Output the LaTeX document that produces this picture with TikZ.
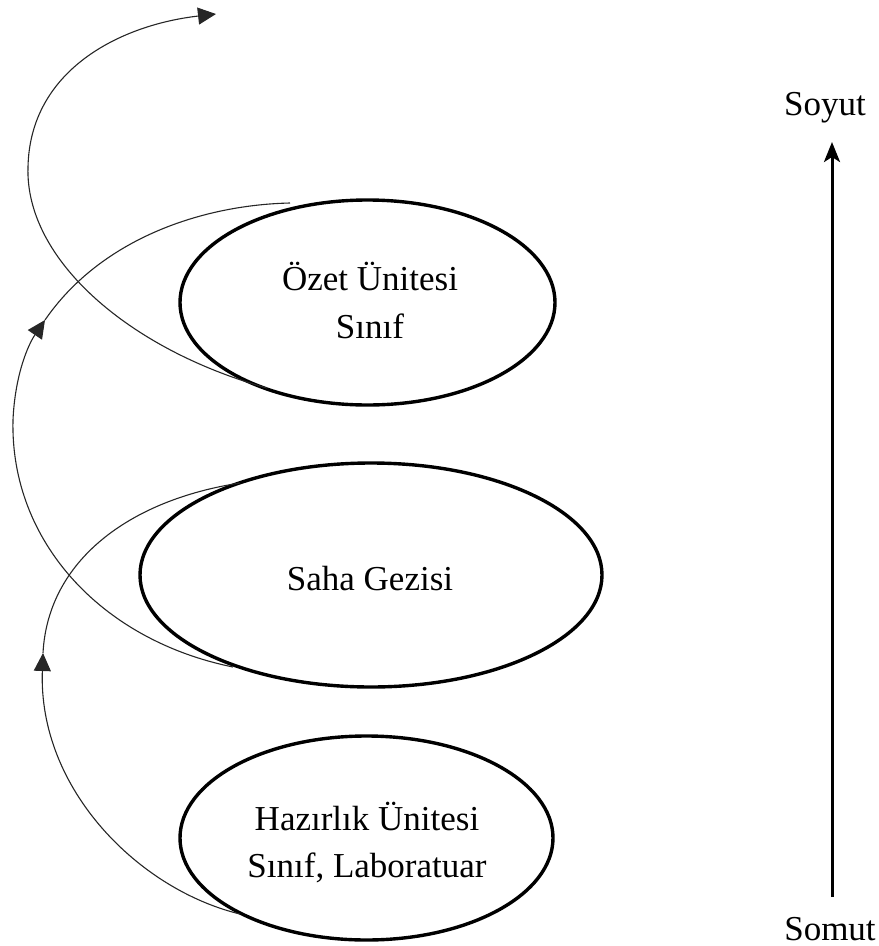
\documentclass[tikz,border=0pt]{standalone}
\usepackage{fontspec}
\setmainfont{Liberation Serif}
\usetikzlibrary{shapes.geometric,arrows.meta}
\begin{document}
\begin{tikzpicture}[x=1pt,y=-1pt,
  oval/.style={draw=black,line width=3.4pt,ellipse,inner sep=0pt},
  lbl/.style={font=\fontsize{35}{40}\selectfont,anchor=base,inner sep=0pt},
  spiral/.style={draw=black!85,line width=1.1pt},
  tip/.style={-{Triangle[length=18pt,width=17pt]}}]
\useasboundingbox (0,0) rectangle (879,946);

% ellipses
\node[oval,minimum width=375pt,minimum height=205pt] (e1) at (367.5,302.5) {};
\node[oval,minimum width=462pt,minimum height=224pt] (e2) at (371,575) {};
\node[oval,minimum width=373pt,minimum height=204pt] (e3) at (366.5,838) {};

% texts
\node[lbl] (t1a) at (370,290) {Özet Ünitesi};
\node[lbl] (t1b) at (370,338) {Sınıf};
\node[lbl] (t2) at (370,590) {Saha Gezisi};
\node[lbl] (t3a) at (367,830) {Hazırlık Ünitesi};
\node[lbl] (t3b) at (367,877) {Sınıf, Laboratuar};

% curve coordinates
\coordinate (a0) at (240,914);
\coordinate (a1) at (43,653);
\coordinate (a2) at (240,483);
\coordinate (b0) at (233,667);
\coordinate (b1) at (13,420);
\coordinate (b2) at (45,320);
\coordinate (b3) at (290,203);
\coordinate (c0) at (267,388);
\coordinate (c1) at (28,167);
\coordinate (c2) at (216,14);

% curve from Hazirlik to Saha Gezisi
\draw[spiral,tip] (a0) .. controls (140,890) and (38,790) .. (a1);
\draw[spiral] (a1) .. controls (48,560) and (130,500) .. (a2);
% curve from Saha Gezisi to Ozet
\draw[spiral] (b0) .. controls (100,640) and (10,540) .. (b1);
\draw[spiral,tip] (b1) .. controls (15,375) and (28,345) .. (b2);
\draw[spiral] (b2) .. controls (100,240) and (200,205) .. (b3);
% curve from Ozet upward
\draw[spiral] (c0) .. controls (130,350) and (25,260) .. (c1);
\draw[spiral,tip] (c1) .. controls (30,70) and (120,25) .. (c2);

% scale arrow
\node[lbl] (soyut) at (825,115) {Soyut};
\node[lbl] (somut) at (830,940) {Somut};
\coordinate (s0) at (832,897);
\coordinate (s1) at (832,142);
\draw[line width=3pt,-{Stealth[length=20pt,width=16pt,inset=5pt]}] (s0) -- (s1);
\end{tikzpicture}
\end{document}
